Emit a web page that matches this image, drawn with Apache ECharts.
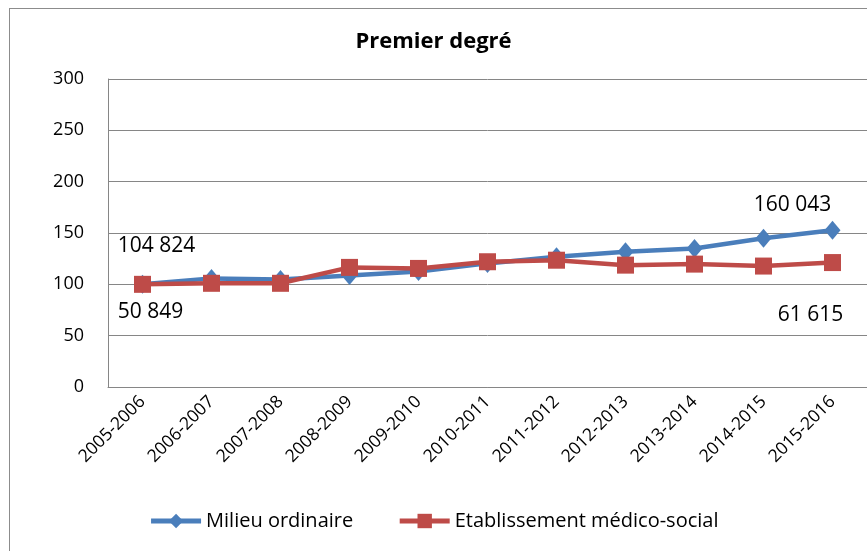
<!DOCTYPE html>
<html>
<head>
<meta charset="utf-8">
<script src="https://cdn.jsdelivr.net/npm/echarts@6/dist/echarts.min.js"></script>
<style>
  html, body { margin: 0; padding: 0; background: #fff; }
  #frame { position: absolute; left: 9px; top: 8px; width: 900px; height: 600px; border: 1px solid #8c8c8c; box-sizing: border-box; }
  #chart { position: absolute; left: 0; top: 0; width: 867px; height: 551px; }
</style>
</head>
<body>
<div id="frame"></div>
<div id="chart"></div>
<script>
const title = 'Premier degré';
const categories = ['2005-2006','2006-2007','2007-2008','2008-2009','2009-2010','2010-2011','2011-2012','2012-2013','2013-2014','2014-2015','2015-2016'];
const seriesNames = ['Milieu ordinaire', 'Etablissement médico-social'];
const milieuOrdinaire = [100, 105.8, 104.8, 108.5, 112.5, 120.4, 126.8, 131.7, 135, 144.8, 152.7];
const etablissementMS = [100, 101, 101, 116.5, 115.5, 122, 123.5, 118.7, 119.7, 117.8, 121.2];
const milieuLabels = {0: '104 824', 10: '160 043'};
const etabLabels = {0: '50 849', 10: '61 615'};
const yTicks = {min: 0, max: 300, interval: 50};

const blue = '#4a7ebb';
const red = '#be4b48';
const fontFamily = '"Open Sans", "Liberation Sans", sans-serif';

function withLabels(values, labels, offsets) {
  return values.map((v, i) => {
    if (labels[i] === undefined) return v;
    return {
      value: v,
      label: {
        show: true,
        formatter: labels[i],
        position: 'inside',
        offset: offsets[i],
        color: '#000',
        fontSize: 21,
        fontFamily: fontFamily
      }
    };
  });
}

const chart = echarts.init(document.getElementById('chart'), null, {renderer: 'canvas'});
chart.setOption({
  animation: false,
  backgroundColor: 'transparent',
  title: {
    text: title,
    left: 'center',
    top: 26,
    textStyle: { fontFamily: fontFamily, fontWeight: 'bold', fontSize: 22, color: '#000' }
  },
  grid: { left: 108, right: 0, top: 79, bottom: 164, containLabel: false },
  xAxis: {
    type: 'category',
    data: categories,
    boundaryGap: true,
    axisLine: { show: true, lineStyle: { color: '#868686', width: 1 } },
    axisTick: { show: false },
    axisLabel: { rotate: 45, fontSize: 17.5, color: '#000', fontFamily: fontFamily, margin: 12, interval: 0 },
    splitLine: { show: false }
  },
  yAxis: {
    type: 'value',
    min: yTicks.min, max: yTicks.max, interval: yTicks.interval,
    axisLine: { show: true, lineStyle: { color: '#868686', width: 1 } },
    axisTick: { show: false },
    axisLabel: { fontSize: 18, color: '#000', fontFamily: fontFamily, margin: 24 },
    splitLine: { show: true, lineStyle: { color: '#868686', width: 1 } }
  },
  legend: {
    bottom: 15,
    left: 'center',
    itemWidth: 50,
    itemHeight: 18,
    itemGap: 44,
    lineStyle: { width: 5 },
    textStyle: { fontSize: 20, color: '#000', fontFamily: fontFamily },
    data: seriesNames
  },
  series: [
    {
      name: seriesNames[0],
      type: 'line',
      data: withLabels(milieuOrdinaire, milieuLabels, {0: [14, -38], 10: [-40, -25]}),
      symbol: 'diamond',
      symbolSize: [16, 19],
      lineStyle: { color: blue, width: 4.5 },
      itemStyle: { color: blue },
      z: 2
    },
    {
      name: seriesNames[1],
      type: 'line',
      data: withLabels(etablissementMS, etabLabels, {0: [8, 28], 10: [-22, 52]}),
      symbol: 'rect',
      symbolSize: 17,
      lineStyle: { color: red, width: 4.5 },
      itemStyle: { color: red },
      z: 3
    }
  ]
});
</script>
</body>
</html>
